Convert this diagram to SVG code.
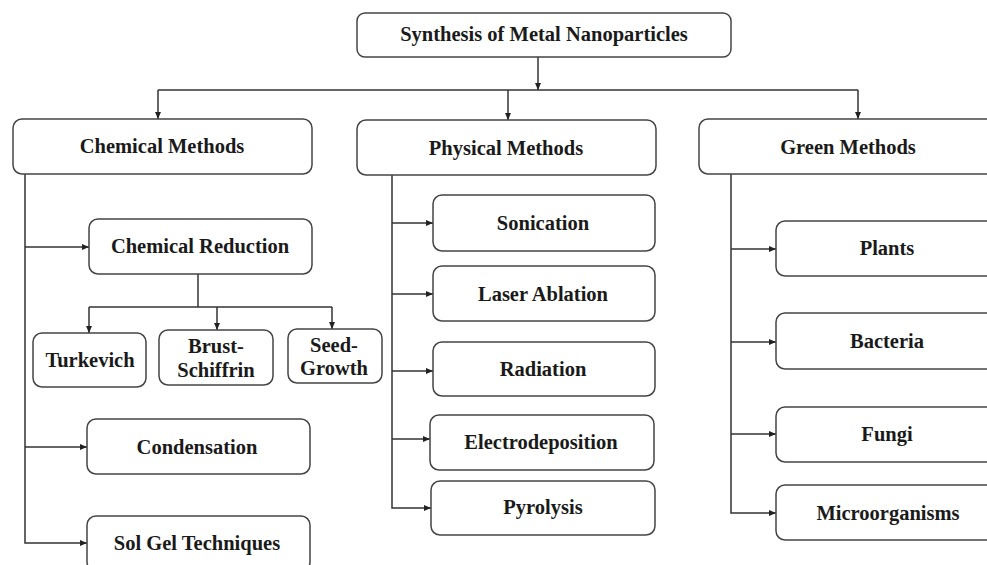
<svg xmlns="http://www.w3.org/2000/svg" width="987" height="565" viewBox="0 0 987 565">
<defs>
<marker id="ah" markerUnits="userSpaceOnUse" markerWidth="8" markerHeight="7" refX="7" refY="3.5" orient="auto">
<path d="M0,0.5 L7,3.5 L0,6.5 z" fill="#222"/>
</marker>
<style>
.box{fill:#fff;stroke:#444;stroke-width:1.5}
.t{font-family:"Liberation Serif","Times New Roman",serif;font-weight:bold;font-size:20.5px;fill:#1a1a1a;text-anchor:middle}
.c{fill:none;stroke:#333;stroke-width:1.5}
.a{fill:none;stroke:#333;stroke-width:1.5;marker-end:url(#ah)}
</style>
</defs>
<rect width="987" height="565" fill="#fff"/>
<g id="connectors">
<path class="a" d="M538,57 V90"/>
<path class="c" d="M158,90 H858"/>
<path class="a" d="M158,90 V119"/>
<path class="a" d="M508,90 V120"/>
<path class="a" d="M858,90 V119"/>
<path class="a" d="M25,174 V543 H87"/>
<path class="a" d="M25,247 H89"/>
<path class="a" d="M25,447 H87"/>
<path class="c" d="M198,274 V307"/>
<path class="c" d="M89,307 H332"/>
<path class="a" d="M89,307 V333"/>
<path class="a" d="M217,307 V330"/>
<path class="a" d="M332,307 V329"/>
<path class="a" d="M392,175 V508 H431"/>
<path class="a" d="M392,223 H433"/>
<path class="a" d="M392,294 H433"/>
<path class="a" d="M392,371 H433"/>
<path class="a" d="M392,439 H430"/>
<path class="a" d="M731,174 V513 H776"/>
<path class="a" d="M731,249 H776"/>
<path class="a" d="M731,342 H776"/>
<path class="a" d="M731,434 H776"/>
</g>
<g id="n-synthesis"><rect class="box" x="357" y="13" width="374" height="44" rx="8"/><text class="t" x="544" y="41">Synthesis of Metal Nanoparticles</text></g>
<g id="n-chemical"><rect class="box" x="13" y="119" width="299" height="55" rx="9"/><text class="t" x="162" y="153">Chemical Methods</text></g>
<g id="n-physical"><rect class="box" x="357" y="120" width="299" height="55" rx="9"/><text class="t" x="506" y="155">Physical Methods</text></g>
<g id="n-green"><rect class="box" x="699" y="119" width="300" height="55" rx="9"/><text class="t" x="848" y="154">Green Methods</text></g>
<g id="n-chemred"><rect class="box" x="89" y="219" width="223" height="55" rx="9"/><text class="t" x="200" y="253">Chemical Reduction</text></g>
<g id="n-turkevich"><rect class="box" x="33" y="333" width="113" height="54" rx="9"/><text class="t" x="90" y="367">Turkevich</text></g>
<g id="n-brust"><rect class="box" x="159" y="330" width="114" height="55" rx="9"/><text class="t" x="216" y="353">Brust-</text><text class="t" x="216" y="377">Schiffrin</text></g>
<g id="n-seed"><rect class="box" x="288" y="329" width="94" height="54" rx="9"/><text class="t" x="334" y="352">Seed-</text><text class="t" x="334" y="375">Growth</text></g>
<g id="n-condensation"><rect class="box" x="87" y="419" width="223" height="55" rx="9"/><text class="t" x="197" y="454">Condensation</text></g>
<g id="n-solgel"><rect class="box" x="87" y="516" width="223" height="55" rx="9"/><text class="t" x="197" y="550">Sol Gel Techniques</text></g>
<g id="n-sonication"><rect class="box" x="433" y="195" width="222" height="56" rx="9"/><text class="t" x="543" y="230">Sonication</text></g>
<g id="n-laser"><rect class="box" x="433" y="266" width="222" height="55" rx="9"/><text class="t" x="543" y="301">Laser Ablation</text></g>
<g id="n-radiation"><rect class="box" x="433" y="342" width="222" height="54" rx="9"/><text class="t" x="543" y="376">Radiation</text></g>
<g id="n-electro"><rect class="box" x="430" y="415" width="224" height="55" rx="9"/><text class="t" x="541" y="449">Electrodeposition</text></g>
<g id="n-pyrolysis"><rect class="box" x="431" y="481" width="224" height="54" rx="9"/><text class="t" x="543" y="514">Pyrolysis</text></g>
<g id="n-plants"><rect class="box" x="776" y="221" width="222" height="55" rx="9"/><text class="t" x="887" y="255">Plants</text></g>
<g id="n-bacteria"><rect class="box" x="776" y="313" width="222" height="56" rx="9"/><text class="t" x="887" y="348">Bacteria</text></g>
<g id="n-fungi"><rect class="box" x="776" y="407" width="222" height="55" rx="9"/><text class="t" x="887" y="441">Fungi</text></g>
<g id="n-micro"><rect class="box" x="776" y="485" width="222" height="55" rx="9"/><text class="t" x="888" y="520">Microorganisms</text></g>
</svg>
